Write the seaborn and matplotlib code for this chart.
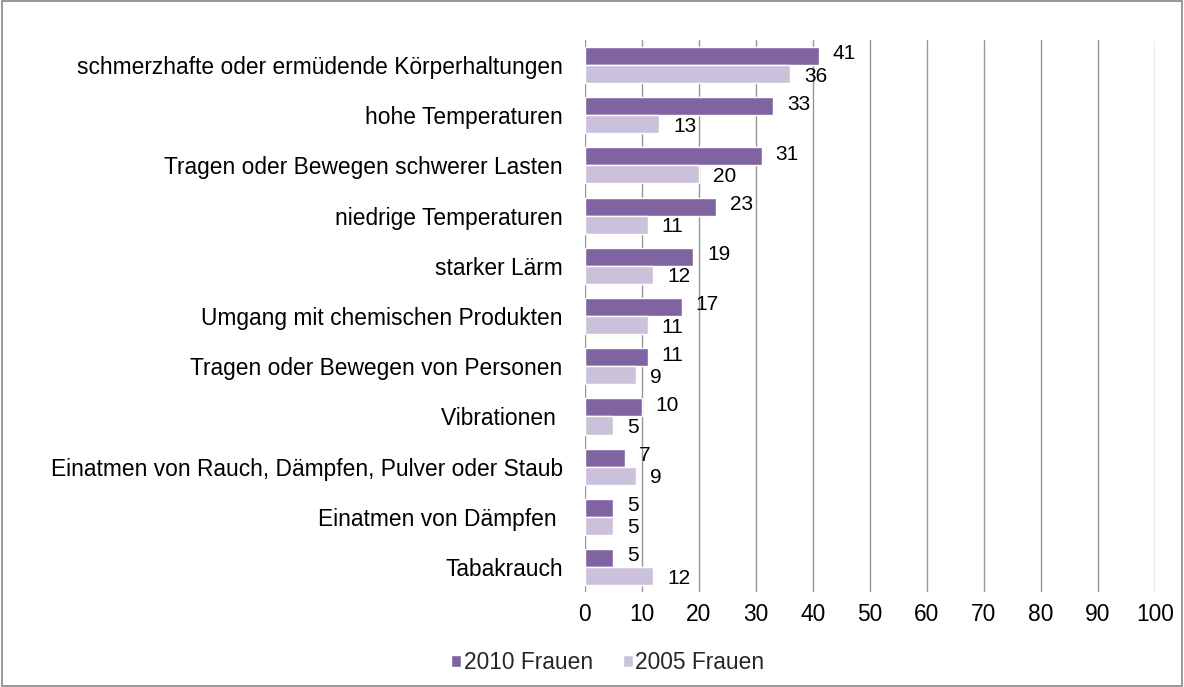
import pandas as pd
import matplotlib.pyplot as plt
import seaborn as sns

# Daten
kategorien = [
    'schmerzhafte oder ermüdende Körperhaltungen',
    'hohe Temperaturen',
    'Tragen oder Bewegen schwerer Lasten',
    'niedrige Temperaturen',
    'starker Lärm',
    'Umgang mit chemischen Produkten',
    'Tragen oder Bewegen von Personen',
    'Vibrationen ',
    'Einatmen von Rauch, Dämpfen, Pulver oder Staub',
    'Einatmen von Dämpfen ',
    'Tabakrauch',
]
frauen_2010 = [41, 33, 31, 23, 19, 17, 11, 10, 7, 5, 5]
frauen_2005 = [36, 13, 20, 11, 12, 11, 9, 5, 9, 5, 12]
serien = ['2010 Frauen', '2005 Frauen']
farben = ['#8064A2', '#CCC1DA']

df = pd.DataFrame({
    'kategorie': kategorien * 2,
    'wert': frauen_2010 + frauen_2005,
    'serie': [serien[0]] * len(kategorien) + [serien[1]] * len(kategorien),
})

sns.set_style('white')
plt.rcParams['font.family'] = ['Liberation Sans', 'DejaVu Sans']

fs = 16.4

fig = plt.figure(figsize=(11.84, 6.87), dpi=100)
ax = fig.add_axes([0.494, 0.138, 0.4815, 0.804])

sns.barplot(data=df, y='kategorie', x='wert', hue='serie', orient='h',
            palette=farben, width=0.72, ax=ax, saturation=1)

# Werte an die Balken, leicht auseinandergezogen
for cont, dy in zip(ax.containers, [1.5, -1.5]):
    for t in ax.bar_label(cont, padding=10, fontsize=15, color='#000000'):
        t.xyann = (t.xyann[0], t.xyann[1] + dy)

ax.set_xlim(0, 100)
ax.set_ylim(10.5, -0.5)
ax.set_xticks(range(0, 101, 10))
ax.xaxis.grid(True, color='#969696', linewidth=1)
ax.set_axisbelow(True)
for s in ax.spines.values():
    s.set_visible(False)
ax.tick_params(axis='both', length=0, labelsize=fs, colors='#000000')
ax.tick_params(axis='y', pad=16)
ax.tick_params(axis='x', pad=8)
ax.set_xlabel('')
ax.set_ylabel('')

ax.legend(loc='upper center', bbox_to_anchor=(0.04, -0.07), ncol=2,
          frameon=False, fontsize=fs, handlelength=0.45, handleheight=0.45,
          handletextpad=0.1, columnspacing=1.3)

# Rahmen um die Grafik
fig.patches.append(plt.Rectangle((0.002, 0.002), 0.996, 0.996, transform=fig.transFigure,
                                 fill=False, edgecolor='#868686', linewidth=1.2))

plt.savefig('out.png', dpi=100)
